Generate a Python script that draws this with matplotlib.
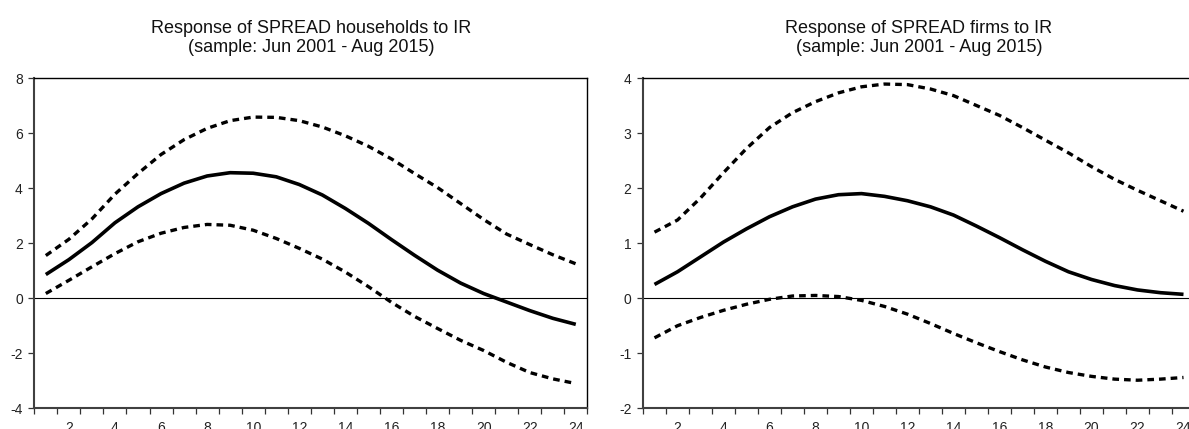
import numpy as np
import matplotlib
matplotlib.use("Agg")
import matplotlib.pyplot as plt

plt.rcParams['font.family'] = ['Liberation Sans', 'DejaVu Sans']

periods = np.arange(1, 25)

# households
hh_resp = [0.86, 1.40, 2.02, 2.74, 3.32, 3.80, 4.18, 4.44, 4.56, 4.54, 4.41, 4.13,
           3.75, 3.26, 2.72, 2.13, 1.56, 1.02, 0.55, 0.17, -0.14, -0.45, -0.73, -0.95]
hh_upper = [1.55, 2.14, 2.88, 3.78, 4.53, 5.22, 5.76, 6.17, 6.45, 6.58, 6.57, 6.45,
            6.22, 5.90, 5.52, 5.06, 4.53, 4.02, 3.44, 2.86, 2.33, 1.95, 1.58, 1.25]
hh_lower = [0.17, 0.65, 1.14, 1.62, 2.05, 2.36, 2.57, 2.68, 2.65, 2.47, 2.17, 1.81,
            1.42, 0.95, 0.42, -0.15, -0.66, -1.10, -1.53, -1.90, -2.33, -2.70, -2.93, -3.10]

# firms
f_resp = [0.25, 0.48, 0.75, 1.02, 1.26, 1.48, 1.66, 1.80, 1.88, 1.90, 1.85, 1.77,
          1.66, 1.51, 1.31, 1.10, 0.88, 0.67, 0.48, 0.34, 0.23, 0.15, 0.10, 0.07]
f_upper = [1.20, 1.42, 1.82, 2.28, 2.72, 3.10, 3.37, 3.57, 3.73, 3.84, 3.89, 3.88,
           3.80, 3.68, 3.50, 3.32, 3.10, 2.87, 2.64, 2.39, 2.16, 1.96, 1.77, 1.58]
f_lower = [-0.72, -0.50, -0.35, -0.22, -0.11, -0.02, 0.04, 0.05, 0.03, -0.04, -0.15, -0.29,
           -0.46, -0.64, -0.81, -0.97, -1.12, -1.25, -1.35, -1.42, -1.47, -1.49, -1.47, -1.44]

titles = ["Response of SPREAD households to IR", "Response of SPREAD firms to IR"]
subtitle = "(sample: Jun 2001 - Aug 2015)"

W, H = 1189, 429
fig = plt.figure(figsize=(W / 100, H / 100), dpi=100)


def px_axes(x0, x1, y0, y1):
    # pixel box (top-left origin) -> figure fraction
    return fig.add_axes([x0 / W, 1 - y1 / H, (x1 - x0) / W, (y1 - y0) / H])


def panel(ax, resp, upper, lower, ylim, yticks):
    ax.axhline(0, color='black', lw=0.8, zorder=1)
    ax.plot(periods, upper, color='black', lw=2.4, ls=(0, (2.0, 1.5)), zorder=2)
    ax.plot(periods, lower, color='black', lw=2.4, ls=(0, (2.0, 1.5)), zorder=2)
    ax.plot(periods, resp, color='black', lw=2.6, solid_capstyle='butt', zorder=3)
    ax.set_xlim(0.5, 24.5)
    ax.set_ylim(*ylim)
    ax.set_yticks(yticks)
    ax.set_yticklabels([str(t) for t in yticks])
    ax.set_xticks(np.arange(0.5, 25, 1))
    ax.set_xticklabels([])
    ax.set_xticks(np.arange(2, 25, 2), minor=True)
    ax.set_xticklabels([str(t) for t in range(2, 25, 2)], minor=True)
    ax.tick_params(axis='x', which='major', direction='out', length=4.3, width=0.9, color='#333333')
    ax.tick_params(axis='x', which='minor', length=0, pad=9.5, labelsize=10, labelcolor='#222222')
    ax.tick_params(axis='y', direction='out', length=4.3, width=0.9, color='#333333',
                   pad=4, labelsize=10, labelcolor='#222222')
    for s in ['left', 'bottom']:
        ax.spines[s].set_linewidth(1.5)
        ax.spines[s].set_color('#404040')
    for s in ['top', 'right']:
        ax.spines[s].set_linewidth(1.0)
        ax.spines[s].set_color('black')


ax1 = px_axes(34.3, 587.3, 78, 408.3)
panel(ax1, hh_resp, hh_upper, hh_lower, (-4, 8), [-4, -2, 0, 2, 4, 6, 8])

ax2 = px_axes(643, 1195, 78, 408.3)
panel(ax2, f_resp, f_upper, f_lower, (-2, 4), [-2, -1, 0, 1, 2, 3, 4])

for ax, t in zip([ax1, ax2], titles):
    bb = ax.get_position()
    xc = (bb.x0 + bb.x1) / 2
    fig.text(xc, 1 - 33 / H, t, ha='center', va='baseline', fontsize=13, color='#111111')
    fig.text(xc, 1 - 52 / H, subtitle, ha='center', va='baseline', fontsize=13, color='#111111')

fig.savefig('out.png', dpi=100)
